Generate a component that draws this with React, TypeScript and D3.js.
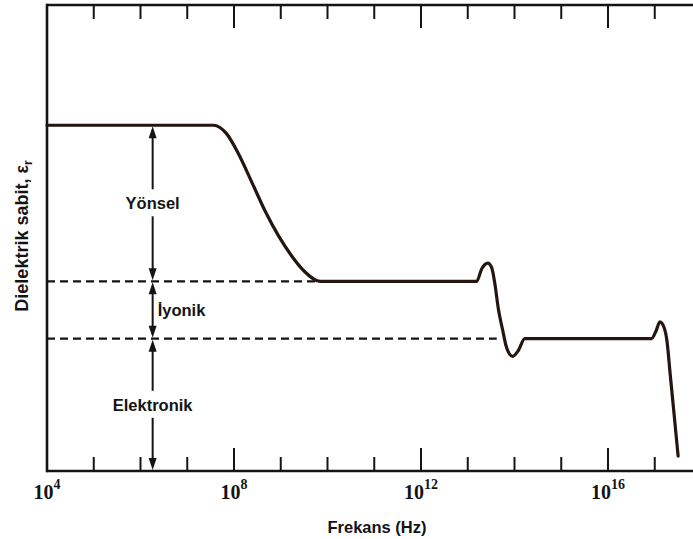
import React from 'react';
import * as d3 from 'd3';

// log10 of frequency (Hz) and relative permittivity
const curveExp = [4, 7.56, 7.84, 8.09, 8.38, 8.66, 8.95, 9.23, 9.52, 9.84, 13.19, 13.3, 13.43, 13.51, 13.58, 13.65, 13.75, 13.83, 13.96, 14.08, 14.22, 16.93, 17.03, 17.11, 17.2, 17.26, 17.33, 17.4, 17.5];
const curveEps = [7.42, 7.42, 7.24, 6.82, 6.2, 5.59, 5.05, 4.62, 4.27, 4.07, 4.07, 4.34, 4.46, 4.37, 4.02, 3.51, 3.01, 2.65, 2.46, 2.58, 2.84, 2.84, 3.01, 3.2, 3.08, 2.8, 2.08, 1.36, 0.32];

// polarisation levels (top to bottom) and their names
const levels = [7.42, 4.07, 2.84, 0];
const mechanisms = ['Yönsel', 'İyonik', 'Elektronik'];
const dashedEnds = [9.84, 13.62];
const arrowExp = 6.26;

const decades = [5, 6, 7, 8, 9, 10, 11, 12, 13, 14, 15, 16, 17];
const labelledDecades = [4, 8, 12, 16];

const W = 693;
const H = 539;
const left = 47;
const top = 5;
const bottom = 471;

export default function App() {
  const x = d3.scaleLog().domain([1e4, 1e18]).range([left, left + 14 * 46.75]);
  const y = d3.scaleLinear().domain([0, 10]).range([bottom, top]);
  const fx = (e: number) => x(Math.pow(10, e));

  const line = d3.line<number>()
    .x((_, i) => fx(curveExp[i]))
    .y(d => y(d))
    .curve(d3.curveMonotoneX);

  const ax = fx(arrowExp);
  const ink = '#141414';
  const sans = '"Liberation Sans", Arial, sans-serif';
  const serif = '"Liberation Serif", "Times New Roman", serif';

  const head = (tipY: number, dir: number) =>
    `M${ax},${tipY} L${ax - 4},${tipY + dir * 12} L${ax + 4},${tipY + dir * 12} Z`;

  return (
    <svg width={W} height={H} style={{ position: 'absolute', left: 0, top: 0, background: '#fff' }}>
      {/* frame */}
      <g stroke={ink} strokeWidth={2.6} fill="none">
        <line x1={left} x2={W} y1={top} y2={top} />
        <line x1={left} x2={W} y1={bottom} y2={bottom} />
        <line x1={left} x2={left} y1={top - 1.3} y2={bottom + 1.3} />
      </g>
      <g stroke={ink} strokeWidth={2}>
        {decades.map(d => {
          const len = d % 4 === 0 ? 23 : 14;
          return (
            <g key={d}>
              <line x1={fx(d)} x2={fx(d)} y1={bottom} y2={bottom - len} />
              <line x1={fx(d)} x2={fx(d)} y1={top} y2={top + len} />
            </g>
          );
        })}
      </g>
      {labelledDecades.map(d => (
        <text key={d} x={fx(d)} y={499} textAnchor="middle" fontFamily={serif} fontWeight="bold" fontSize={20} fill={ink}>
          10<tspan fontSize={14} dy={-10}>{d}</tspan>
        </text>
      ))}
      <text x={377} y={533} textAnchor="middle" fontFamily={sans} fontWeight="bold" fontSize={16.5} fill={ink}>
        Frekans (Hz)
      </text>
      <text transform="translate(28,236) rotate(-90)" textAnchor="middle" fontFamily={sans} fontWeight="bold" fontSize={18} fill={ink}>
        Dielektrik sabit, ε<tspan fontSize={12} dy={4}>r</tspan>
      </text>

      {/* dashed level lines */}
      {dashedEnds.map((e, i) => (
        <line key={i} x1={left} x2={fx(e)} y1={y(levels[i + 1])} y2={y(levels[i + 1])}
          stroke={ink} strokeWidth={2.4} strokeDasharray="8,5" />
      ))}

      {/* contribution arrows */}
      <g stroke={ink} strokeWidth={2}>
        {mechanisms.map((m, i) => {
          const y0 = y(levels[i]);
          const y1 = y(levels[i + 1]);
          const mid = (y0 + y1) / 2;
          if (i === 1) return <line key={m} x1={ax} x2={ax} y1={y0 + 10} y2={y1 - 10} />;
          return (
            <g key={m}>
              <line x1={ax} x2={ax} y1={y0 + 10} y2={mid - 14} />
              <line x1={ax} x2={ax} y1={mid + 13} y2={y1 - 10} />
            </g>
          );
        })}
      </g>
      <g fill={ink}>
        {mechanisms.map((m, i) => (
          <g key={m}>
            <path d={head(y(levels[i]) + 1, 1)} />
            <path d={head(y(levels[i + 1]) - 1, -1)} />
          </g>
        ))}
      </g>
      {mechanisms.map((m, i) => {
        const mid = (y(levels[i]) + y(levels[i + 1])) / 2;
        return (
          <text key={m} x={i === 1 ? ax + 5 : ax} y={mid + 6} textAnchor={i === 1 ? 'start' : 'middle'}
            fontFamily={sans} fontWeight="bold" fontSize={16.5} fill={ink}>
            {m}
          </text>
        );
      })}

      {/* permittivity curve */}
      <path d={line(curveEps) || ''} fill="none" stroke="#24150f" strokeWidth={3.2} strokeLinejoin="round" strokeLinecap="round" />
    </svg>
  );
}
